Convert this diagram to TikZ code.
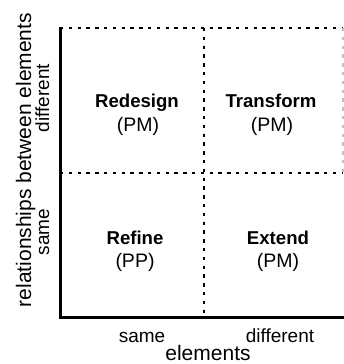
\documentclass[tikz,border=0pt]{standalone}
\usepackage{fontspec}
\setmainfont{Liberation Sans}
\usepackage{tikz}
\tikzstyle{axis} = [draw=black, line width=3pt]
\tikzstyle{grid} = [draw=black, line width=2.7pt, dash pattern=on 3.4pt off 5.4pt]
\tikzstyle{quad} = [inner sep=0pt, anchor=base, font={\bfseries\fontsize{18.6}{22}\selectfont}]
\tikzstyle{tag} = [inner sep=0pt, anchor=base, font={\fontsize{19.5}{23}\selectfont}]
\tikzstyle{lab} = [inner sep=0pt, anchor=base, font={\fontsize{19}{23}\selectfont}]
\tikzstyle{title} = [inner sep=0pt, anchor=base, font={\fontsize{21}{25}\selectfont}]

\begin{document}
\begin{tikzpicture}[x=1pt,y=-1pt]
  \useasboundingbox (0,0) rectangle (344,364);
  \coordinate (top) at (60,28);
  \coordinate (origin) at (60,317);
  \coordinate (end) at (344,317);
  \coordinate (midleft) at (60,173);
  \coordinate (midright) at (342,173);
  \coordinate (topright) at (342,28);
  \coordinate (midtop) at (204,28);
  \coordinate (midbottom) at (204,317);
  \coordinate (edgetop) at (343,28);
  \coordinate (edgemid) at (343,173);
  \draw[grid](top)--(topright);
  \draw[grid](midleft)--(midright);
  \draw[grid](midtop)--(midbottom);
  \draw[grid,draw=black!25](edgetop)--(edgemid);
  \draw[axis,line cap=rect](top)--(origin)--(end);
  \node[quad](redesign) at (137,107){Redesign};
  \node[tag](redesignpm) at (138,131){(PM)};
  \node[quad](transform) at (271,107){Transform};
  \node[tag](transformpm) at (272,131){(PM)};
  \node[quad](refine) at (135,244){Refine};
  \node[tag](refinepp) at (135,267){(PP)};
  \node[quad](extend) at (278,244){Extend};
  \node[tag](extendpm) at (278,267){(PM)};
  \node[lab](xsame) at (142,342){same};
  \node[lab](xdiff) at (280,342){different};
  \node[title](xtitle) at (208,360){elements};
  \node[lab,rotate=90](ysame) at (49,232){same};
  \node[lab,rotate=90](ydiff) at (49,98){different};
  \node[title,rotate=90](ytitle) at (31,160){relationships between elements};
\end{tikzpicture}
\end{document}
